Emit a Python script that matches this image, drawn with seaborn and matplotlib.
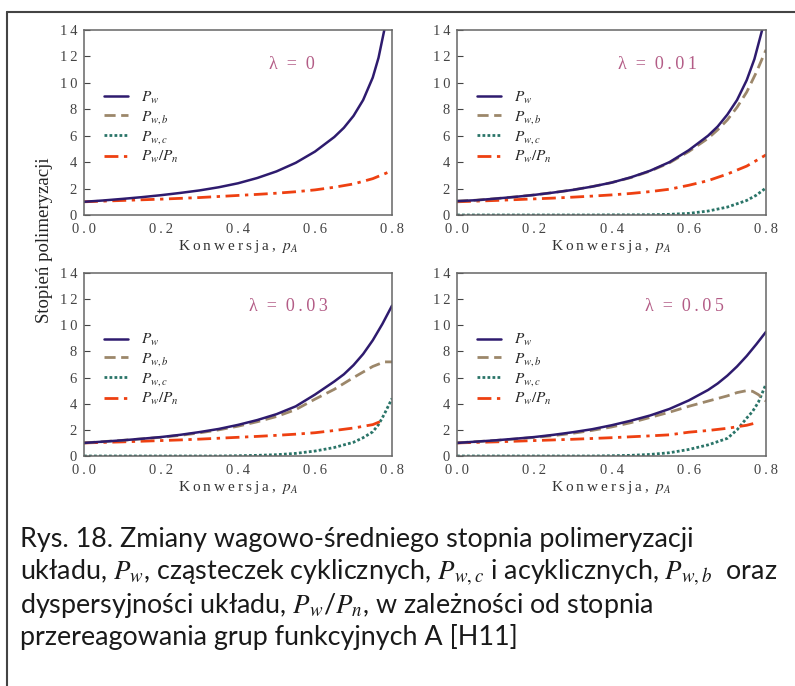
import numpy as np
import pandas as pd
import matplotlib
matplotlib.use("Agg")
import matplotlib.pyplot as plt
from matplotlib.lines import Line2D
import seaborn as sns

# =========================
# STYLE
# =========================
sns.set_style("ticks")
plt.rcParams["font.family"] = ["Liberation Serif", "DejaVu Serif"]
plt.rcParams["mathtext.fontset"] = "stix"

# =========================
# DATA
# =========================
x_base = [0.0, 0.05, 0.1, 0.15, 0.2, 0.25, 0.3, 0.35, 0.4, 0.45, 0.5, 0.55,
          0.6, 0.65]

# lambda = 0
x_pw_0 = x_base + [0.675, 0.7, 0.725, 0.75, 0.765, 0.78]
pw_0 = [1.0, 1.1, 1.22, 1.35, 1.5, 1.67, 1.86, 2.1, 2.4, 2.8, 3.3, 3.95,
        4.8, 5.9, 6.6, 7.5, 8.7, 10.4, 11.9, 14.0]
x_pwpn_0 = x_base + [0.7, 0.75, 0.8]
pwpn_0 = [1.0, 1.05, 1.1, 1.15, 1.2, 1.26, 1.32, 1.4, 1.48, 1.56, 1.65, 1.76,
          1.9, 2.1, 2.35, 2.75, 3.35]

# lambda = 0.01
x_pw_1 = x_base + [0.675, 0.7, 0.725, 0.75, 0.77, 0.79]
pw_1 = [1.05, 1.12, 1.24, 1.37, 1.52, 1.7, 1.9, 2.15, 2.45, 2.85, 3.35, 4.0,
        4.9, 6.0, 6.7, 7.6, 8.7, 10.2, 11.8, 14.0]
x_pwb_1 = x_base + [0.675, 0.7, 0.725, 0.75, 0.775, 0.8]
pwb_1 = [1.05, 1.12, 1.24, 1.37, 1.52, 1.7, 1.9, 2.15, 2.45, 2.83, 3.32, 3.95,
         4.8, 5.8, 6.45, 7.2, 8.15, 9.3, 10.8, 12.5]
x_pwc_1 = x_base + [0.7, 0.75, 0.775, 0.8]
pwc_1 = [0.0, 0.0, 0.0, 0.0, 0.0, 0.0, 0.0, 0.0, 0.01, 0.01, 0.02, 0.05,
         0.12, 0.3, 0.6, 1.1, 1.5, 2.05]
x_pwpn_1 = x_base + [0.7, 0.75, 0.8]
pwpn_1 = [1.0, 1.05, 1.1, 1.16, 1.22, 1.28, 1.35, 1.43, 1.52, 1.63, 1.77, 1.95,
          2.25, 2.6, 3.1, 3.7, 4.55]

# lambda = 0.03
x_pw_3 = x_base + [0.675, 0.7, 0.725, 0.75, 0.775, 0.8]
pw_3 = [1.0, 1.1, 1.2, 1.32, 1.45, 1.62, 1.83, 2.07, 2.38, 2.75, 3.2, 3.8,
        4.7, 5.7, 6.25, 6.95, 7.8, 8.85, 10.1, 11.5]
x_pwb_3 = x_base + [0.7, 0.75, 0.78, 0.8]
pwb_3 = [1.0, 1.1, 1.2, 1.31, 1.43, 1.58, 1.77, 2.0, 2.28, 2.62, 3.02, 3.55,
         4.35, 5.1, 6.0, 6.85, 7.2, 7.2]
x_pwc_3 = x_base + [0.7, 0.725, 0.75, 0.765, 0.78, 0.8]
pwc_3 = [0.0, 0.0, 0.0, 0.0, 0.0, 0.0, 0.0, 0.0, 0.02, 0.05, 0.1, 0.2,
         0.38, 0.65, 1.05, 1.4, 1.85, 2.4, 3.2, 4.4]
x_pwpn_3 = x_base + [0.7, 0.75, 0.775]
pwpn_3 = [1.0, 1.04, 1.08, 1.13, 1.18, 1.23, 1.29, 1.36, 1.43, 1.5, 1.58, 1.67,
          1.78, 1.95, 2.14, 2.4, 2.7]

# lambda = 0.05
x_pw_5 = x_base + [0.675, 0.7, 0.725, 0.75, 0.775, 0.8]
pw_5 = [1.0, 1.1, 1.2, 1.32, 1.45, 1.62, 1.82, 2.05, 2.35, 2.7, 3.1, 3.6,
        4.25, 5.05, 5.55, 6.15, 6.85, 7.65, 8.55, 9.5]
x_pwb_5 = x_base + [0.7, 0.725, 0.75, 0.765, 0.78, 0.8]
pwb_5 = [1.0, 1.1, 1.19, 1.3, 1.42, 1.56, 1.74, 1.96, 2.22, 2.55, 2.95, 3.35,
         3.8, 4.2, 4.6, 4.85, 5.0, 4.95, 4.7, 4.2]
x_pwc_5 = x_base + [0.7, 0.725, 0.75, 0.765, 0.78, 0.8]
pwc_5 = [0.0, 0.0, 0.0, 0.0, 0.0, 0.0, 0.0, 0.0, 0.02, 0.05, 0.12, 0.25,
         0.5, 0.85, 1.35, 2.0, 2.9, 3.4, 4.1, 5.5]
x_pwpn_5 = x_base + [0.7, 0.75, 0.78]
pwpn_5 = [1.0, 1.04, 1.08, 1.13, 1.18, 1.23, 1.28, 1.34, 1.4, 1.47, 1.54, 1.62,
          1.82, 1.95, 2.12, 2.35, 2.58]

lambdy = ["0", "0.01", "0.03", "0.05"]
lambda_x = [0.54, 0.52, 0.53, 0.59]
x_ticks = [0.0, 0.2, 0.4, 0.6, 0.8]
x_tick_labels = ["0.0", "0.2", "0.4", "0.6", "0.8"]
y_ticks = [0, 2, 4, 6, 8, 10, 12, 14]

# =========================
# KOLORY I STYLE LINII
# =========================
c_pw = "#2e1b6e"
c_pwb = "#9c876a"
c_pwc = "#2a7468"
c_pwpn = "#ee4011"
c_lam = "#b35c86"

ls_pw = "-"
ls_pwb = (0, (4, 2))
ls_pwc = (0, (1, 0.8))
ls_pwpn = (0, (5, 2, 1.2, 2))

panele = [
    [(x_pwpn_0, pwpn_0, c_pwpn, ls_pwpn, 2.0),
     (x_pw_0, pw_0, c_pw, ls_pw, 1.8)],
    [(x_pwc_1, pwc_1, c_pwc, ls_pwc, 2.0),
     (x_pwpn_1, pwpn_1, c_pwpn, ls_pwpn, 2.0),
     (x_pwb_1, pwb_1, c_pwb, ls_pwb, 2.0),
     (x_pw_1, pw_1, c_pw, ls_pw, 1.8)],
    [(x_pwc_3, pwc_3, c_pwc, ls_pwc, 2.0),
     (x_pwpn_3, pwpn_3, c_pwpn, ls_pwpn, 2.0),
     (x_pwb_3, pwb_3, c_pwb, ls_pwb, 2.0),
     (x_pw_3, pw_3, c_pw, ls_pw, 1.8)],
    [(x_pwc_5, pwc_5, c_pwc, ls_pwc, 2.0),
     (x_pwpn_5, pwpn_5, c_pwpn, ls_pwpn, 2.0),
     (x_pwb_5, pwb_5, c_pwb, ls_pwb, 2.0),
     (x_pw_5, pw_5, c_pw, ls_pw, 1.8)],
]


def rozstaw(s):
    # litery rozstawione waskimi spacjami, jak w oryginale
    return "\u2009".join(s)


# =========================
# FIGURA
# =========================
W, H = 795, 686
fig = plt.figure(figsize=(W / 100, H / 100), dpi=100)
fig.patch.set_facecolor("white")

pozycje = [
    (84, 30, 392, 215),
    (457, 30, 766, 215),
    (84, 273, 392, 456),
    (457, 273, 766, 456),
]

handles = [
    Line2D([], [], color=c_pw, ls=ls_pw, lw=1.8, label=r"$P_w$"),
    Line2D([], [], color=c_pwb, ls=ls_pwb, lw=2.0, label=r"$P_{w,b}$"),
    Line2D([], [], color=c_pwc, ls=ls_pwc, lw=2.0, label=r"$P_{w,c}$"),
    Line2D([], [], color=c_pwpn, ls=ls_pwpn, lw=2.0, label=r"$P_w/P_n$"),
]

for i, (x0, y0, x1, y1) in enumerate(pozycje):
    ax = fig.add_axes([x0 / W, 1 - y1 / H, (x1 - x0) / W, (y1 - y0) / H])
    for xs, ys, col, ls, lw in panele[i]:
        df = pd.DataFrame({"x": xs, "y": ys})
        sns.lineplot(data=df, x="x", y="y", ax=ax, color=col,
                     linestyle=ls, linewidth=lw, sort=True)
    ax.set_xlim(0, 0.8)
    ax.set_ylim(0, 14)
    ax.set_xticks(x_ticks)
    ax.set_xticklabels([rozstaw(t) for t in x_tick_labels])
    ax.set_yticks(y_ticks)
    ax.set_yticklabels([rozstaw(str(t)) for t in y_ticks])
    ax.tick_params(labelsize=10.5, colors="#444444", width=0.8)
    ax.tick_params(axis="y", direction="in", length=4, pad=5)
    ax.tick_params(axis="x", length=0, pad=6)
    for sp in ax.spines.values():
        sp.set_color("#666666")
        sp.set_linewidth(1.1)
    ax.set_xlabel(rozstaw("Konwersja,") + "  $p_A$", fontsize=11,
                  color="#333333", labelpad=1)
    ax.set_ylabel("")
    ax.text(lambda_x[i], 11.4, "λ  =  " + rozstaw(lambdy[i]), color=c_lam,
            fontsize=13, ha="center", va="center")
    ax.legend(handles=handles, loc="upper left", bbox_to_anchor=(0.045, 0.71),
              frameon=False, fontsize=11, handlelength=1.6, labelspacing=0.2,
              borderaxespad=0, handletextpad=0.8)

fig.text(45 / W, 1 - 240 / H, "Stopień polimeryzacji", rotation=90,
         fontsize=13.5, ha="center", va="center", color="#222222")

# =========================
# PODPIS
# =========================
cap_font = ["Lato", "DejaVu Sans"]
podpis = [
    "Rys. 18. Zmiany wagowo-średniego stopnia polimeryzacji",
    r"układu, $P_w$, cząsteczek cyklicznych, $P_{w,c}$ i acyklicznych, $P_{w,b}$  oraz",
    r"dyspersyjności układu, $P_w$/$P_n$, w zależności od stopnia",
    "przereagowania grup funkcyjnych A [H11]",
]
podpis_y = [540, 573, 605, 637]
for t, yy in zip(podpis, podpis_y):
    fig.text(20 / W, 1 - yy / H, t, family=cap_font, fontsize=19.4,
             ha="left", va="center", color="#1a1a1a")

# ramka
fig.add_artist(Line2D([7 / W, 1.0], [1 - 12 / H, 1 - 12 / H], color="#444444", lw=1.5))
fig.add_artist(Line2D([7 / W, 7 / W], [0.0, 1 - 12 / H], color="#444444", lw=1.5))

fig.savefig("out.png", dpi=100)
